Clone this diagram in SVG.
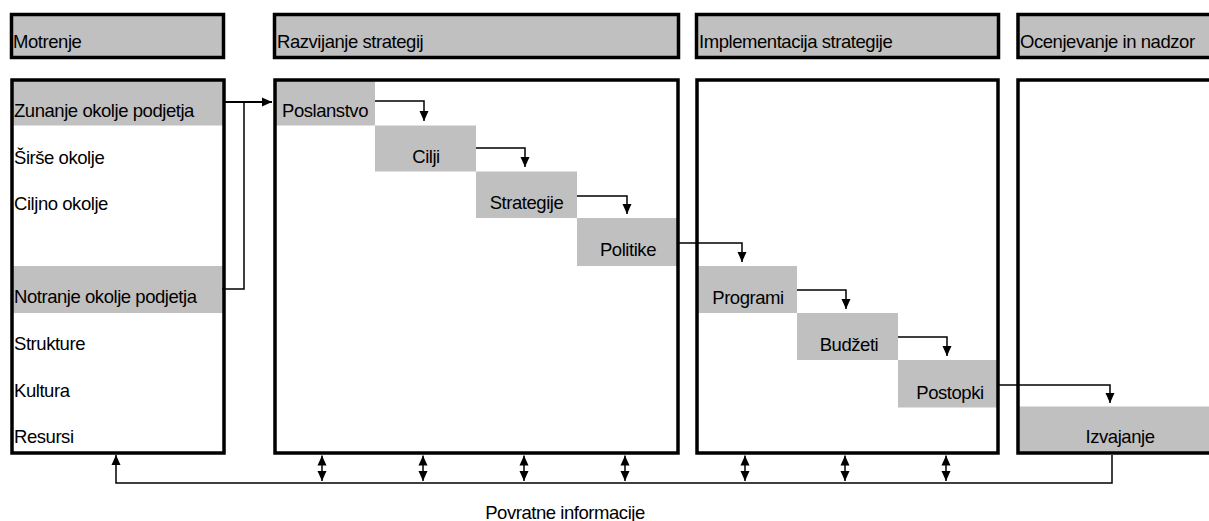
<svg xmlns="http://www.w3.org/2000/svg" width="1209" height="521" viewBox="0 0 1209 521">
<style>
text{font-family:"Liberation Sans",Arial,sans-serif;font-size:18.5px;letter-spacing:-0.45px;fill:#000}
.hdr{fill:#c0c0c0;stroke:#000;stroke-width:3.5}
.bodyfill{fill:#fff}
.border{fill:none;stroke:#000;stroke-width:3.5}
.gray{fill:#c0c0c0}
.c{text-anchor:middle}
.ln{fill:none;stroke:#000;stroke-width:1.5}
.ln2{fill:none;stroke:#000;stroke-width:2}
</style>
<defs>
<marker id="ah" viewBox="0 0 10 10" refX="10" refY="5" markerWidth="10" markerHeight="10" markerUnits="userSpaceOnUse" orient="auto-start-reverse">
<path d="M0,0.5 L10,5 L0,9.5 Z" fill="#000"/>
</marker>
</defs>
<rect width="1209" height="521" fill="#fff"/>

<g id="hdr-motrenje"><rect class="hdr" x="11.5" y="14.5" width="212" height="43"/><text x="13" y="48">Motrenje</text></g>
<g id="hdr-razvijanje"><rect class="hdr" x="274.5" y="14.5" width="404" height="43"/><text x="277" y="48">Razvijanje strategij</text></g>
<g id="hdr-implementacija"><rect class="hdr" x="696.5" y="14.5" width="302" height="43"/><text x="699" y="48">Implementacija strategije</text></g>
<g id="hdr-ocenjevanje"><rect class="hdr" x="1018" y="14.5" width="210" height="43"/><text x="1020" y="48">Ocenjevanje in nadzor</text></g>

<g id="motrenje">
<rect class="bodyfill" x="12" y="80" width="212" height="373"/>
<rect class="gray" x="12" y="80" width="212" height="45.5"/>
<rect class="gray" x="12" y="266" width="212" height="47"/>
<text x="14" y="117">Zunanje okolje podjetja</text>
<text x="14" y="164">Širše okolje</text>
<text x="14" y="210">Ciljno okolje</text>
<text x="14" y="303">Notranje okolje podjetja</text>
<text x="14" y="350">Strukture</text>
<text x="14" y="397">Kultura</text>
<text x="14" y="443">Resursi</text>
<rect class="border" x="12" y="80" width="212" height="373"/>
</g>

<g id="razvijanje">
<rect class="bodyfill" x="275" y="80" width="403" height="373"/>
<g id="poslanstvo"><rect class="gray" x="275" y="80" width="100" height="45.5"/><text class="c" x="325" y="117">Poslanstvo</text></g>
<g id="cilji"><rect class="gray" x="375" y="125.5" width="101" height="46"/><text class="c" x="426" y="163">Cilji</text></g>
<g id="strategije"><rect class="gray" x="476" y="171.5" width="101" height="46.5"/><text class="c" x="526.5" y="209">Strategije</text></g>
<g id="politike"><rect class="gray" x="577" y="218" width="101" height="48"/><text class="c" x="628" y="256">Politike</text></g>
<rect class="border" x="275" y="80" width="403" height="373"/>
</g>

<g id="implementacija">
<rect class="bodyfill" x="697" y="80" width="301" height="373"/>
<g id="programi"><rect class="gray" x="697" y="266" width="100" height="47"/><text class="c" x="748" y="304">Programi</text></g>
<g id="budzeti"><rect class="gray" x="797" y="313" width="101" height="47"/><text class="c" x="849" y="351">Budžeti</text></g>
<g id="postopki"><rect class="gray" x="898" y="360" width="100" height="47.5"/><text class="c" x="950" y="399">Postopki</text></g>
<rect class="border" x="697" y="80" width="301" height="373"/>
</g>

<g id="ocenjevanje">
<rect class="bodyfill" x="1018" y="80" width="210" height="373"/>
<g id="izvajanje"><rect class="gray" x="1018" y="406.5" width="210" height="46.5"/><text class="c" x="1120" y="443">Izvajanje</text></g>
<rect class="border" x="1018" y="80" width="210" height="373"/>
</g>

<g id="connectors">
<path class="ln2" d="M224,102 H272" marker-end="url(#ah)"/>
<path class="ln" d="M222,289 H244 V102"/>
<path class="ln" d="M375,101 H424 V121" marker-end="url(#ah)"/>
<path class="ln" d="M476,148 H525 V167" marker-end="url(#ah)"/>
<path class="ln" d="M577,196 H627 V214" marker-end="url(#ah)"/>
<path class="ln" d="M679,243 H742 V262" marker-end="url(#ah)"/>
<path class="ln" d="M797,290 H846 V309" marker-end="url(#ah)"/>
<path class="ln" d="M898,337 H947 V356" marker-end="url(#ah)"/>
<path class="ln" d="M999,385 H1110 V403" marker-end="url(#ah)"/>
<path class="ln" d="M1112,455 V483 H116 V455" marker-end="url(#ah)"/>
<path class="ln" d="M322,455.5 V481" marker-start="url(#ah)" marker-end="url(#ah)"/>
<path class="ln" d="M423,455.5 V481" marker-start="url(#ah)" marker-end="url(#ah)"/>
<path class="ln" d="M524,455.5 V481" marker-start="url(#ah)" marker-end="url(#ah)"/>
<path class="ln" d="M625,455.5 V481" marker-start="url(#ah)" marker-end="url(#ah)"/>
<path class="ln" d="M745,455.5 V481" marker-start="url(#ah)" marker-end="url(#ah)"/>
<path class="ln" d="M845,455.5 V481" marker-start="url(#ah)" marker-end="url(#ah)"/>
<path class="ln" d="M946,455.5 V481" marker-start="url(#ah)" marker-end="url(#ah)"/>
</g>

<g id="feedback-label"><text class="c" x="565" y="518.5">Povratne informacije</text></g>
</svg>
